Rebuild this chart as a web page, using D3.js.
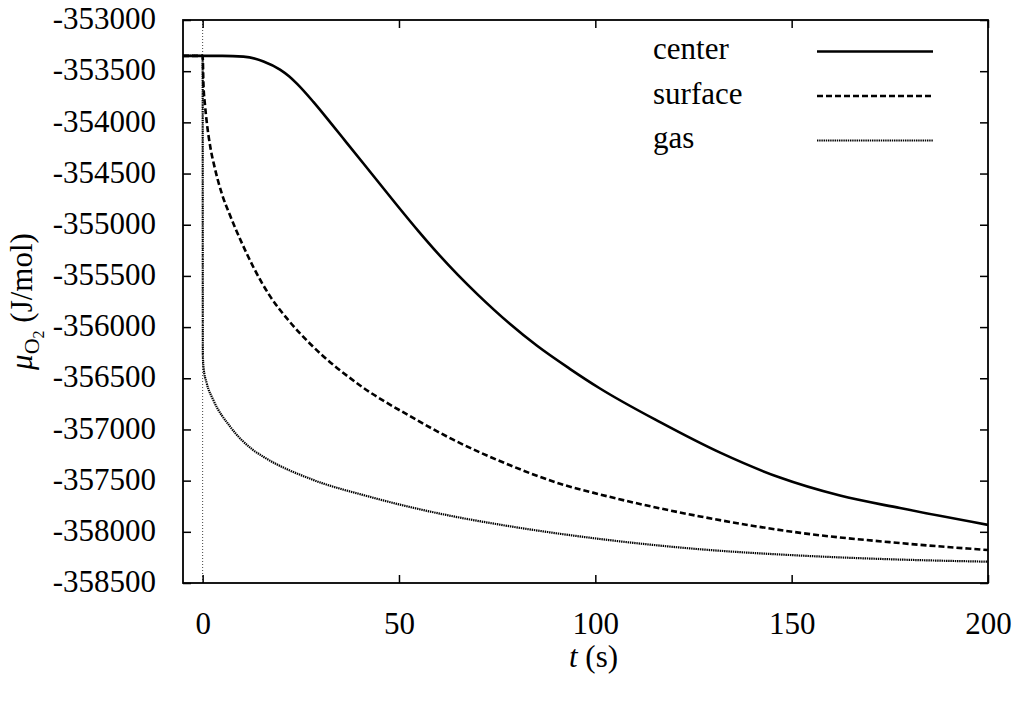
<!DOCTYPE html>
<html>
<head>
<meta charset="utf-8">
<script src="https://cdn.jsdelivr.net/npm/d3@7"></script>
</head>
<body style="margin:0">
<script>
// values (time in s, chemical potential in J/mol)
const centerT = [-5, 0, 5, 10.4, 15.5, 19.7, 22, 24.0, 28.2, 32.6, 36.7, 40.9, 45.2, 49.4, 55, 60, 65, 70, 78.3, 85, 93.6, 101.2, 116.5, 131.8, 147.0, 162.3, 177.6, 200];
const centerV = [-353350, -353350, -353350, -353358, -353405, -353485, -353550, -353622, -353800, -354005, -354200, -354400, -354605, -354805, -355065, -355285, -355490, -355680, -355970, -356178, -356410, -356600, -356929, -357227, -357470, -357646, -357768, -357932];

const surfaceT = [-5, 0, 0.2, 0.6, 1.0, 2.0, 3.0, 5.0, 7.0, 10, 13, 17.2, 22, 27.3, 40.1, 52.8, 63.8, 78.3, 91.0, 101.2, 126.7, 152.2, 177.6, 200];
const surfaceV = [-353350, -353350, -353620, -353830, -353980, -354250, -354430, -354710, -354910, -355180, -355420, -355700, -355940, -356160, -356570, -356870, -357100, -357350, -357530, -357635, -357850, -358010, -358110, -358178];

const gasT = [-5, 0, 0.05, 0.2, 1.04, 2.7, 7.0, 12.8, 15.4, 28.1, 41.8, 50.3, 62, 75.7, 101.2, 125, 152.2, 175, 200];
const gasV = [-353350, -353350, -356250, -356386, -356548, -356711, -356972, -357199, -357265, -357492, -357650, -357735, -357835, -357930, -358070, -358165, -358232, -358268, -358292];

const xTicks = [0, 50, 100, 150, 200];
const yTicks = [-353000, -353500, -354000, -354500, -355000, -355500, -356000, -356500, -357000, -357500, -358000, -358500];
const xDomain = [-5, 200];
const yDomain = [-358500, -353000];

const seriesNames = ["center", "surface", "gas"];

// build series table
const series = [
    { name: seriesNames[0], values: centerT.map((t, i) => ({ t: t, v: centerV[i] })), dash: null, width: 2.6, color: "#000" },
    { name: seriesNames[1], values: surfaceT.map((t, i) => ({ t: t, v: surfaceV[i] })), dash: "6,3", width: 2.6, color: "#000" },
    { name: seriesNames[2], values: gasT.map((t, i) => ({ t: t, v: gasV[i] })), dash: "1.4,0.8", width: 2.2, color: "#000" }
];

const W = 1017, H = 702;
const margin = { top: 20, right: 29, bottom: 119, left: 183 };
const width = W - margin.left - margin.right;
const height = H - margin.top - margin.bottom;
const FONT = "Liberation Serif";
const fontSize = 31;

const root = d3.select("body")
    .append("svg")
    .attr("width", W)
    .attr("height", H)
    .attr("font-family", FONT)
    .attr("font-size", fontSize);

const svg = root.append("g")
    .attr("transform", `translate(${margin.left},${margin.top})`);

// scales
const x = d3.scaleLinear().domain(xDomain).range([0, width]);
const y = d3.scaleLinear().domain(yDomain).range([height, 0]);

svg.append("clipPath").attr("id", "clip")
    .append("rect").attr("width", width).attr("height", height);

// vertical dotted reference line at t = 0
svg.append("line")
    .attr("x1", x(0)).attr("x2", x(0))
    .attr("y1", y(yDomain[0])).attr("y2", y(yDomain[1]))
    .attr("stroke", "#444")
    .attr("stroke-width", 1)
    .attr("stroke-dasharray", "1,2");

// curves
const line = d3.line()
    .x(d => x(d.t))
    .y(d => y(d.v))
    .curve(d3.curveMonotoneX);

svg.append("g").attr("clip-path", "url(#clip)")
    .selectAll("path")
    .data(series.slice().reverse())
    .join("path")
    .attr("d", d => line(d.values))
    .attr("fill", "none")
    .attr("stroke", d => d.color)
    .attr("stroke-width", d => d.width)
    .attr("stroke-dasharray", d => d.dash);

// axes, ticks pointing inward on all four sides
const yAxis = d3.axisLeft(y).tickValues(yTicks).tickSizeInner(-8).tickSizeOuter(0).tickPadding(27).tickFormat(d => String(d));
const yAxisR = d3.axisRight(y).tickValues(yTicks).tickSizeInner(-8).tickSizeOuter(0).tickFormat("");
const xAxis = d3.axisBottom(x).tickValues(xTicks).tickSizeInner(-8).tickSizeOuter(0).tickPadding(29).tickFormat(d => String(d));
const xAxisT = d3.axisTop(x).tickValues(xTicks).tickSizeInner(-8).tickSizeOuter(0).tickFormat("");

function styleAxis(g) {
    g.attr("font-family", FONT).attr("font-size", fontSize);
    g.select(".domain").remove();
    g.selectAll(".tick line").attr("stroke", "#000").attr("stroke-width", 1.5);
    g.selectAll(".tick text")
        .attr("fill", "#000")
        .attr("font-family", FONT)
        .attr("font-size", fontSize);
}

svg.append("g").call(yAxis).call(styleAxis)
    .selectAll(".tick text").attr("dy", "0.28em");
svg.append("g").attr("transform", `translate(${width},0)`).call(yAxisR).call(styleAxis);
svg.append("g").attr("transform", `translate(0,${height})`).call(xAxis).call(styleAxis);
svg.append("g").call(xAxisT).call(styleAxis);

// frame
svg.append("rect")
    .attr("width", width).attr("height", height)
    .attr("fill", "none")
    .attr("stroke", "#000")
    .attr("stroke-width", 1.8);

// axis titles
const xTitle = svg.append("text")
    .attr("x", (x(xDomain[0]) + x(xDomain[1])) / 2 + 8)
    .attr("y", height + 84)
    .attr("text-anchor", "middle")
    .attr("font-family", FONT)
    .attr("font-size", fontSize);
xTitle.append("tspan").attr("font-style", "italic").text("t");
xTitle.append("tspan").text(" (s)");

const yTitle = svg.append("text")
    .attr("transform", `translate(${32 - margin.left},${height / 2}) rotate(-90)`)
    .attr("text-anchor", "middle")
    .attr("font-family", FONT)
    .attr("font-size", fontSize);
yTitle.append("tspan").attr("font-style", "italic").text("μ");
yTitle.append("tspan").attr("dy", 7).attr("font-size", 22).text("O");
yTitle.append("tspan").attr("dy", 5).attr("font-size", 16).text("2");
yTitle.append("tspan").attr("dy", -12).text(" (J/mol)");

// legend
const legend = svg.append("g").attr("transform", `translate(${653 - margin.left},${59 - margin.top})`);
const legendItem = legend.selectAll("g")
    .data(series)
    .join("g")
    .attr("transform", (d, i) => `translate(0,${i * 44.5})`);

legendItem.append("text")
    .attr("font-family", FONT)
    .attr("font-size", fontSize)
    .text(d => d.name);

legendItem.append("line")
    .attr("x1", 164).attr("x2", 280)
    .attr("y1", -7.5).attr("y2", -7.5)
    .attr("stroke", d => d.color)
    .attr("stroke-width", d => d.width)
    .attr("stroke-dasharray", d => d.dash);
</script>
</body>
</html>
